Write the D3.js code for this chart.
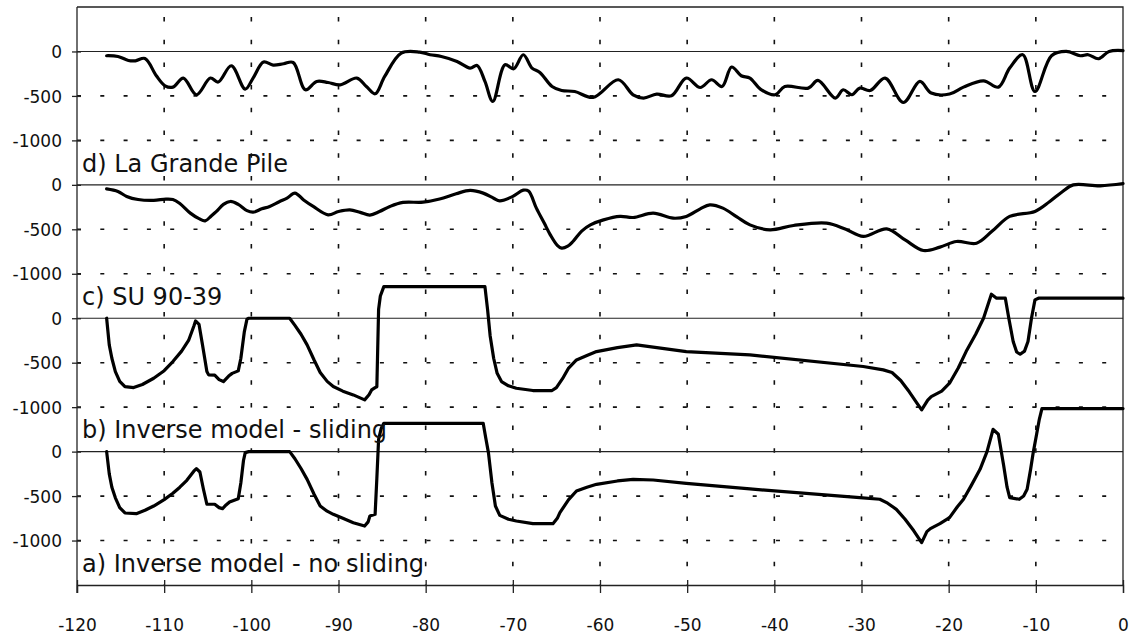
<!DOCTYPE html>
<html>
<head>
<meta charset="utf-8">
<script src="https://cdn.jsdelivr.net/npm/d3@7"></script>
<style>
  body { margin: 0; background: #fff; }
  text { font-family: "DejaVu Sans", sans-serif; fill: #111; }
</style>
</head>
<body>
<div id="chart"></div>
<script>
/*------------------------------
 DATA (age in ka, value per panel)
 ----------------------------*/
const X_TICKS = [-120, -110, -100, -90, -80, -70, -60, -50, -40, -30, -20, -10, 0];
const Y_TICKS = [0, -500, -1000];
const PANEL_NAMES = ["a) Inverse model - no sliding", "b) Inverse model - sliding", "c) SU 90-39", "d) La Grande Pile"];

const grandePile = [[-116.6,-48],[-115.3,-56],[-114.1,-101],[-113.3,-105],[-112.2,-79],[-110.9,-273],[-109.9,-386],[-109.0,-401],
  [-107.8,-299],[-106.3,-487],[-104.7,-299],[-103.8,-344],[-102.3,-161],[-100.7,-423],[-99.8,-299],[-98.6,-119],[-97.5,-153],
  [-96.3,-138],[-95.2,-124],[-93.8,-431],[-92.5,-337],[-91.2,-349],[-89.8,-375],[-87.9,-299],[-86.8,-394],[-85.8,-476],
  [-84.7,-281],[-82.8,-18],[-80.7,-7],[-79.5,-37],[-78.2,-56],[-76.4,-112],[-74.9,-187],[-74.1,-157],[-73.2,-337],[-72.3,-562],
  [-70.9,-150],[-69.9,-195],[-68.8,-37],[-67.8,-187],[-66.9,-236],[-65.5,-394],[-64.4,-439],[-62.9,-450],[-60.8,-517],
  [-57.9,-318],[-56.2,-487],[-55.0,-524],[-53.5,-479],[-51.8,-498],[-50.1,-299],[-48.5,-405],[-47.2,-318],[-46.0,-394],
  [-44.9,-175],[-43.8,-273],[-42.8,-299],[-41.6,-423],[-39.9,-487],[-38.8,-394],[-36.1,-412],[-35.0,-326],[-33.0,-524],
  [-32.1,-431],[-31.1,-487],[-30.2,-412],[-29.0,-439],[-27.3,-299],[-25.2,-574],[-23.3,-337],[-22.0,-468],[-19.9,-479],
  [-18.3,-401],[-16.0,-330],[-14.3,-401],[-13.0,-187],[-11.5,-37],[-10.1,-450],[-8.2,-48],[-6.5,0],[-4.9,-48],[-4.0,-37],
  [-2.8,-82],[-1.6,0],[0,10]];

const su9039 = [[-116.6,-45],[-115.3,-74],[-114.3,-130],[-113,-165],[-111.2,-175],[-109.8,-160],[-109,-165],[-108.2,-210],
  [-107,-318],[-106,-380],[-105.3,-405],[-104.6,-350],[-104,-299],[-103.2,-220],[-102.4,-187],[-101.5,-220],[-100.5,-290],
  [-99.8,-307],[-98.8,-270],[-97.9,-243],[-96.8,-190],[-95.9,-150],[-95.0,-93],[-94,-170],[-92.9,-243],[-91.2,-337],
  [-90,-300],[-88.7,-281],[-87.5,-310],[-86.4,-340],[-85.3,-300],[-84.1,-243],[-82.6,-198],[-80.3,-195],[-78.4,-160],
  [-76.5,-100],[-74.9,-63],[-73.4,-93],[-72.2,-150],[-71.5,-180],[-70.0,-130],[-68.8,-60],[-68.2,-70],[-67.3,-262],
  [-66.4,-430],[-65.7,-562],[-64.9,-680],[-64.4,-712],[-63.7,-690],[-63.1,-637],[-62.1,-520],[-61.1,-450],[-59.6,-394],
  [-57.7,-355],[-56.2,-367],[-53.9,-318],[-51.6,-375],[-50.1,-355],[-48.5,-270],[-47.4,-225],[-45.9,-262],[-44.3,-360],
  [-42.8,-450],[-40.5,-506],[-37.8,-457],[-34.0,-431],[-31.8,-500],[-29.8,-580],[-27.1,-495],[-25,-620],[-22.9,-738],
  [-21,-700],[-19.1,-637],[-16.8,-656],[-15,-520],[-13.0,-355],[-10.1,-299],[-8.4,-187],[-7,-80],[-5.7,0],[-2.6,-11],[0,15]];

const invSliding = [[-116.6,0],[-116.3,-300],[-116,-450],[-115.6,-600],[-115.1,-710],[-114.5,-770],[-113.5,-780],[-112.5,-745],
  [-111.2,-675],[-110,-590],[-109,-487],[-108,-370],[-107.2,-250],[-106.6,-90],[-106.4,-30],[-106,-70],[-105.6,-300],
  [-105.1,-600],[-104.9,-637],[-104.2,-640],[-103.7,-690],[-103.2,-712],[-102.6,-650],[-102.2,-620],[-101.5,-592],
  [-101.2,-450],[-100.8,-150],[-100.5,-10],[-100.3,0],[-95.6,0],[-95,-80],[-94.3,-180],[-93.6,-300],[-92.8,-470],
  [-92.1,-610],[-91.3,-710],[-90.6,-768],[-89.5,-820],[-88.3,-862],[-87,-918],[-86.5,-860],[-86.2,-806],[-85.8,-780],
  [-85.6,-770],[-85.4,100],[-85.2,250],[-84.8,356],[-73.2,356],[-72.9,100],[-72.6,-200],[-72.2,-450],[-71.8,-620],
  [-71.3,-712],[-70.5,-760],[-69.6,-787],[-67.7,-813],[-65.5,-813],[-65.0,-780],[-64.3,-680],[-63.6,-560],[-62.7,-469],
  [-61.5,-420],[-60.4,-375],[-58,-330],[-55.8,-300],[-50.1,-375],[-42.8,-412],[-29.8,-543],[-27.5,-581],[-26.5,-610],
  [-25.5,-700],[-24.5,-830],[-23.6,-960],[-23.1,-1031],[-22.4,-920],[-22.0,-881],[-20.8,-820],[-19.9,-731],[-18.9,-560],
  [-18.0,-375],[-16.9,-180],[-16.0,0],[-15.1,270],[-14.5,225],[-13.5,225],[-13.1,0],[-12.6,-262],[-12.2,-380],[-11.8,-405],
  [-11.3,-370],[-10.9,-262],[-10.5,0],[-10.1,206],[-9.7,225],[0,225]];

const invNoSliding = [[-116.6,0],[-116.3,-250],[-116,-400],[-115.6,-520],[-115.1,-630],[-114.5,-690],[-113.2,-698],[-112.2,-660],
  [-111.2,-612],[-110,-540],[-109,-469],[-108.2,-400],[-107.4,-323],[-106.6,-220],[-106.3,-191],[-105.9,-229],[-105.5,-420],
  [-105.1,-592],[-104.2,-592],[-103.7,-630],[-103.3,-641],[-102.9,-600],[-102.5,-566],[-101.5,-529],[-101.2,-350],
  [-100.9,-100],[-100.7,-11],[-100.3,0],[-95.6,0],[-95,-80],[-94.3,-190],[-93.6,-312],[-92.8,-480],[-92.1,-612],
  [-91.3,-670],[-90.6,-705],[-89.5,-750],[-88.3,-799],[-87,-837],[-86.6,-790],[-86.4,-724],[-85.8,-705],[-85.6,-300],
  [-85.4,138],[-85.1,260],[-84.8,318],[-73.4,318],[-73.1,150],[-72.8,-11],[-72.4,-350],[-72.0,-612],[-71.5,-717],
  [-70.5,-760],[-69.6,-780],[-67.7,-810],[-65.4,-810],[-64.9,-750],[-64.6,-686],[-63.6,-540],[-62.7,-443],[-61.5,-400],
  [-60.4,-368],[-58,-330],[-56.2,-312],[-53.9,-319],[-50.1,-357],[-42.8,-420],[-30.2,-517],[-27.9,-536],[-27,-580],
  [-26,-649],[-25,-760],[-24,-890],[-23.1,-1024],[-22.5,-900],[-22.1,-866],[-21,-810],[-19.9,-742],[-19,-620],[-18.3,-536],
  [-17.4,-380],[-16.4,-199],[-15.6,0],[-14.9,251],[-14.3,195],[-13.7,-150],[-13.3,-400],[-13.0,-517],[-11.9,-536],
  [-11.4,-500],[-11.0,-424],[-10.6,-200],[-10.3,-11],[-9.9,200],[-9.6,363],[-9.3,484],[0,484]];

/*------------------------------
 GLOBAL CONSTANTS
 ----------------------------*/
const SVG_WIDTH = 1137;
const SVG_HEIGHT = 639;
const LEFT = 77, RIGHT = 1123, TOP = 7, BOTTOM = 585;
const PANEL_STEP = 1500;   // each panel is stacked 1500 units above the previous one

const svg = d3.select("#chart").append("svg")
  .attr("width", SVG_WIDTH).attr("height", SVG_HEIGHT);

const xScale = d3.scaleLinear().domain([-120, 0]).range([LEFT, RIGHT]);
const yScale = d3.scaleLinear().domain([-PANEL_STEP, 4 * PANEL_STEP - 1000]).range([BOTTOM, TOP]);

// panels from bottom (a) to top (d)
const PANELS = [
  {name: PANEL_NAMES[0], data: invNoSliding, curve: d3.curveLinear},
  {name: PANEL_NAMES[1], data: invSliding, curve: d3.curveLinear},
  {name: PANEL_NAMES[2], data: su9039, curve: d3.curveCatmullRom},
  {name: PANEL_NAMES[3], data: grandePile, curve: d3.curveCatmullRom}
];
PANELS.forEach((p, i) => p.offset = i * PANEL_STEP);

// plain hyphen instead of the unicode minus d3.format would give
const hyphenFmt = v => String(v);

/*------------------------------
 GRID
 ----------------------------*/
const grid = svg.append("g");

// vertical dashed lines
grid.selectAll("line.vgrid")
  .data(X_TICKS.filter(t => t > -120 && t < 0))
  .enter().append("line")
  .attr("x1", d => xScale(d)).attr("x2", d => xScale(d))
  .attr("y1", TOP).attr("y2", BOTTOM)
  .attr("stroke", "#111").attr("stroke-width", 1.6)
  .attr("stroke-dasharray", "4.5,18.2").attr("stroke-dashoffset", 12.7);

PANELS.forEach(p => {
  // dashed -500 and -1000
  grid.selectAll(null)
    .data([-500, -1000])
    .enter().append("line")
    .attr("x1", LEFT).attr("x2", RIGHT)
    .attr("y1", d => yScale(d + p.offset)).attr("y2", d => yScale(d + p.offset))
    .attr("stroke", "#111").attr("stroke-width", 1.6)
    .attr("stroke-dasharray", "4,19.3");
  // solid zero line
  grid.append("line")
    .attr("x1", LEFT).attr("x2", RIGHT)
    .attr("y1", yScale(p.offset)).attr("y2", yScale(p.offset))
    .attr("stroke", "#222").attr("stroke-width", 1.1);
});

// frame (top and right)
svg.append("path")
  .attr("d", `M${LEFT},${TOP}H${RIGHT}V${BOTTOM}`)
  .attr("fill", "none").attr("stroke", "#222").attr("stroke-width", 1.3);

/*------------------------------
 AXES
 ----------------------------*/
const bottomAxis = d3.axisBottom(xScale).tickValues(X_TICKS).tickSize(8).tickFormat(hyphenFmt);
const xAxis = svg.append("g")
  .attr("transform", `translate(0, ${BOTTOM})`)
  .call(bottomAxis);
xAxis.select(".domain").attr("stroke", "#222").attr("stroke-width", 1.3);
xAxis.selectAll(".tick line").attr("y1", -5).attr("stroke", "#222").attr("stroke-width", 1.3);
xAxis.selectAll(".tick text")
  .attr("y", 46).attr("dy", 0)
  .style("font-family", "'DejaVu Sans', sans-serif").style("font-size", "17px").attr("fill", "#111");

// one tick set per panel, labelled with the panel's own value
const allYTicks = [];
PANELS.forEach(p => Y_TICKS.forEach(t => allYTicks.push({v: t + p.offset, label: t})));
const leftAxis = d3.axisLeft(yScale)
  .tickValues(allYTicks.map(t => t.v)).tickSize(5)
  .tickFormat((v, i) => hyphenFmt(allYTicks[i].label));
const yAxis = svg.append("g")
  .attr("transform", `translate(${LEFT}, 0)`)
  .call(leftAxis);
yAxis.select(".domain").attr("d", `M0,${TOP}V${BOTTOM + 8}`).attr("stroke", "#222").attr("stroke-width", 1.3);
yAxis.selectAll(".tick line").attr("x1", 4).attr("stroke", "#222").attr("stroke-width", 1.3);
yAxis.selectAll(".tick text")
  .attr("x", -15).attr("dy", "0.36em")
  .style("font-family", "'DejaVu Sans', sans-serif").style("font-size", "17px").attr("fill", "#111");

/*------------------------------
 CURVES + LABELS
 ----------------------------*/
PANELS.forEach(p => {
  const line = d3.line()
    .x(d => xScale(d[0]))
    .y(d => yScale(d[1] + p.offset))
    .curve(p.curve);

  svg.append("path")
    .datum(p.data)
    .attr("d", line)
    .attr("fill", "none")
    .attr("stroke", "#000")
    .attr("stroke-width", 3.2)
    .attr("stroke-linejoin", "round")
    .attr("stroke-linecap", "round");

  svg.append("text")
    .attr("x", 82)
    .attr("y", yScale(p.offset - 1350))
    .style("font-size", "24px")
    .text(p.name);
});
</script>
</body>
</html>
